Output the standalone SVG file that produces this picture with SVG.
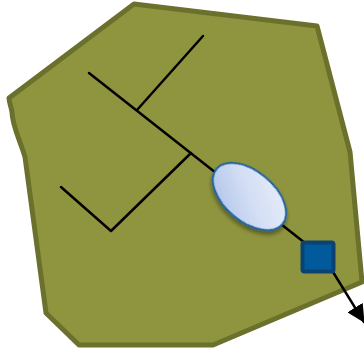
<svg xmlns="http://www.w3.org/2000/svg" width="364" height="354" viewBox="0 0 364 354">
<style>
.ln{fill:none;stroke:#000;stroke-width:2.5;stroke-linecap:round;stroke-linejoin:round}
</style>
<defs>
<linearGradient id="eg" x1="0" y1="1" x2="1" y2="0">
<stop offset="0" stop-color="#a9bfea"/>
<stop offset="0.5" stop-color="#d3def4"/>
<stop offset="1" stop-color="#eaf0fb"/>
</linearGradient>
<filter id="sh" x="-30%" y="-30%" width="160%" height="160%">
<feGaussianBlur in="SourceAlpha" stdDeviation="2"/>
<feOffset dx="2" dy="3"/>
<feComponentTransfer><feFuncA type="linear" slope="0.4"/></feComponentTransfer>
<feMerge><feMergeNode/><feMergeNode in="SourceGraphic"/></feMerge>
</filter>
<marker id="ah2" viewBox="0 0 18 18" refX="17" refY="9" markerWidth="18" markerHeight="18" orient="auto" markerUnits="userSpaceOnUse">
<path d="M0,0 L18,9 L0,18 z" fill="#000"/>
</marker>
</defs>
<g id="region">
<path d="M134,4 L317,26 L350,152 L362,282 L213,345 L79,345 L46,313 L25,157 C20,140 12,125 12,112 C11,106 9,102 9,98 Z" fill="#8f953e" stroke="#6b712c" stroke-width="5" stroke-linejoin="round"/>
</g>
<g id="connectors">
<path class="ln" d="M89,73 L305,243"/>
<path class="ln" d="M137,110 L203,36"/>
<path class="ln" d="M191,153 L111,231 L61,187"/>
<path class="ln" d="M333,272 L364,322" marker-end="url(#ah2)"/>
</g>
<g id="ellipse">
<ellipse cx="249.5" cy="196.5" rx="43" ry="25" transform="rotate(40 249.5 196.5)" fill="url(#eg)" stroke="#1d62a3" stroke-width="2" filter="url(#sh)"/>
</g>
<g id="square">
<rect x="302.5" y="242.5" width="31" height="29" rx="2" fill="#005a9c" stroke="#0b4272" stroke-width="4"/>
</g>
</svg>
